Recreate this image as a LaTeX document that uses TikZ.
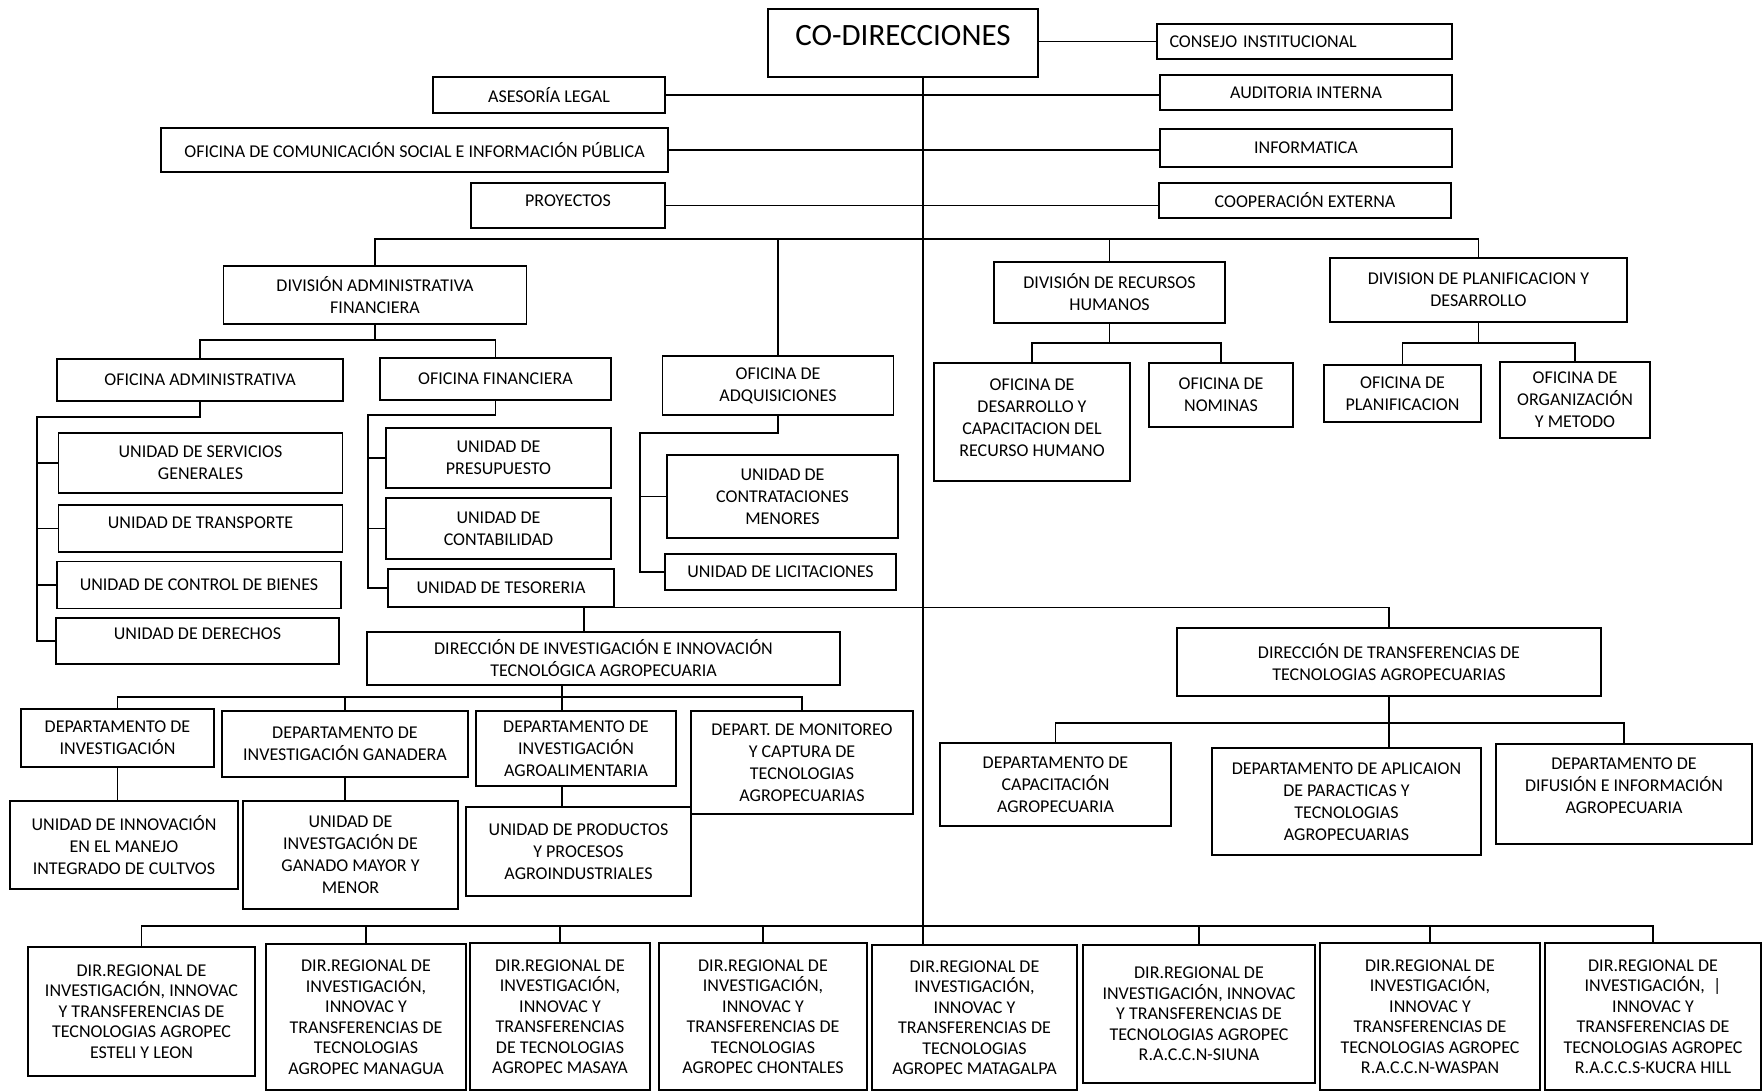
\documentclass[tikz,border=0pt]{standalone}
\usepackage{fontspec}
\setmainfont{Carlito}

\begin{document}
\begin{tikzpicture}[x=1pt,y=-1pt,
    caja/.style={draw=black,line width=1.4pt,inner sep=2pt,align=center,font=\fontsize{18}{22}\selectfont},
    regional/.style={caja,font=\fontsize{18}{20.5}\selectfont},
    linea/.style={black,line width=1.5pt}]
                          \useasboundingbox (0,0) rectangle (1764,1091);

                          \coordinate (tronco) at (923,77);
                          \coordinate (n1) at (0,239);
                          \coordinate (n2) at (0,340);
                          \coordinate (n2b) at (0,343);
                          \coordinate (n3a) at (0,417);
                          \coordinate (n3b) at (0,415);
                          \coordinate (n3c) at (0,433);
                          \coordinate (n5) at (0,697);
                          \coordinate (n5b) at (0,723);
                          \coordinate (n6) at (0,926);
                          \coordinate (ramaadm) at (37,0);
                          \coordinate (ramafin) at (368,0);
                          \coordinate (ramaadq) at (640,0);
                          \coordinate (j1) at (584,607);
                          \coordinate (j2) at (562,0);

                          \node[caja,minimum width=270,minimum height=68,font=\fontsize{31}{36}\selectfont] (codir) at (903,43) {\raisebox{7pt}[\height][\depth]{CO-DIRECCIONES}};
                          \node[caja,minimum width=295,minimum height=35,text width=270,align=left] (consejo) at (1304.5,41.5) {CONSEJO INSTITUCIONAL};
                          \node[caja,minimum width=232,minimum height=36] (asesoria) at (549,95) {ASESORÍA LEGAL};
                          \node[caja,minimum width=292,minimum height=35] (auditoria) at (1306,92.5) {AUDITORIA INTERNA};
                          \node[caja,minimum width=507,minimum height=44] (ofcom) at (414.5,150) {OFICINA DE COMUNICACIÓN SOCIAL E INFORMACIÓN PÚBLICA};
                          \node[caja,minimum width=292,minimum height=38] (informatica) at (1306,148) {INFORMATICA};
                          \node[caja,minimum width=194,minimum height=45] (proyectos) at (568,205.5) {\raisebox{5pt}[\height][\depth]{PROYECTOS}};
                          \node[caja,minimum width=292,minimum height=35] (cooperacion) at (1305,200.5) {COOPERACIÓN EXTERNA};

                          \node[caja,minimum width=303,minimum height=58] (divadm) at (375,295) {DIVISIÓN ADMINISTRATIVA\\FINANCIERA};
                          \node[caja,minimum width=231,minimum height=61] (divrh) at (1109.5,292.5) {DIVISIÓN DE RECURSOS\\HUMANOS};
                          \node[caja,minimum width=297,minimum height=64] (divpl) at (1478.5,290) {DIVISION DE PLANIFICACION Y\\DESARROLLO};

                          \node[caja,minimum width=286,minimum height=42] (ofadmin) at (200,380) {OFICINA ADMINISTRATIVA};
                          \node[caja,minimum width=231,minimum height=42] (offin) at (495.5,379) {OFICINA FINANCIERA};
                          \node[caja,minimum width=231,minimum height=59] (ofadq) at (778,385.5) {OFICINA DE\\ADQUISICIONES};

                          \node[caja,minimum width=284,minimum height=60] (usg) at (200.5,463) {UNIDAD DE SERVICIOS\\GENERALES};
                          \node[caja,minimum width=284,minimum height=47] (utr) at (200.5,528.5) {\raisebox{6pt}[\height][\depth]{UNIDAD DE TRANSPORTE}};
                          \node[caja,minimum width=284,minimum height=47] (ucb) at (199,585) {UNIDAD DE CONTROL DE BIENES};
                          \node[caja,minimum width=283,minimum height=46] (uder) at (197.5,641) {\raisebox{7pt}[\height][\depth]{UNIDAD DE DERECHOS}};

                          \node[caja,minimum width=225,minimum height=60] (upre) at (498.5,458) {UNIDAD DE\\PRESUPUESTO};
                          \node[caja,minimum width=225,minimum height=61] (ucon) at (498.5,528.5) {UNIDAD DE\\CONTABILIDAD};
                          \node[caja,minimum width=226,minimum height=38] (utes) at (501,588) {UNIDAD DE TESORERIA};

                          \node[caja,minimum width=231,minimum height=83] (ucm) at (782.5,496.5) {UNIDAD DE\\CONTRATACIONES\\MENORES};
                          \node[caja,minimum width=231,minimum height=36] (ulic) at (780.5,572) {UNIDAD DE LICITACIONES};

                          \node[caja,minimum width=196,minimum height=118] (ofdes) at (1032,422) {OFICINA DE\\DESARROLLO Y\\CAPACITACION DEL\\RECURSO HUMANO\\[-14pt]\mbox{}};
                          \node[caja,minimum width=144,minimum height=64] (ofnom) at (1221,395) {OFICINA DE\\NOMINAS};
                          \node[caja,minimum width=157,minimum height=57] (ofplan) at (1402.5,393.5) {OFICINA DE\\PLANIFICACION};
                          \node[caja,minimum width=150,minimum height=76] (oforg) at (1575,400) {OFICINA DE\\ORGANIZACIÓN\\Y METODO};

                          \node[caja,minimum width=473,minimum height=53] (dirinv) at (603.5,658.5) {DIRECCIÓN DE INVESTIGACIÓN E INNOVACIÓN\\TECNOLÓGICA AGROPECUARIA};
                          \node[caja,minimum width=424,minimum height=68] (dirtr) at (1389,662) {DIRECCIÓN DE TRANSFERENCIAS DE\\TECNOLOGIAS AGROPECUARIAS};

                          \node[caja,minimum width=193,minimum height=58] (dinv) at (117.5,738) {DEPARTAMENTO DE\\INVESTIGACIÓN};
                          \node[caja,minimum width=246,minimum height=66] (dgan) at (345,744) {DEPARTAMENTO DE\\INVESTIGACIÓN GANADERA};
                          \node[caja,minimum width=200,minimum height=75] (dagro) at (576,748.5) {DEPARTAMENTO DE\\INVESTIGACIÓN\\AGROALIMENTARIA};
                          \node[caja,minimum width=222,minimum height=103] (dmon) at (802,762.5) {DEPART. DE MONITOREO\\Y CAPTURA DE\\TECNOLOGIAS\\AGROPECUARIAS};
                          \node[caja,minimum width=228,minimum height=88] (uinn) at (124,845) {UNIDAD DE INNOVACIÓN\\EN EL MANEJO\\INTEGRADO DE CULTVOS};
                          \node[caja,minimum width=215,minimum height=108] (ugan) at (350.5,855) {UNIDAD DE\\INVESTGACIÓN DE\\GANADO MAYOR Y\\MENOR};
                          \node[caja,minimum width=225,minimum height=89] (uprod) at (578.5,851.5) {UNIDAD DE PRODUCTOS\\Y PROCESOS\\AGROINDUSTRIALES};

                          \node[caja,minimum width=231,minimum height=83] (dcap) at (1055.5,784.5) {DEPARTAMENTO DE\\CAPACITACIÓN\\AGROPECUARIA};
                          \node[caja,minimum width=269,minimum height=107] (dapl) at (1346.5,801.5) {DEPARTAMENTO DE APLICAION\\DE PARACTICAS Y\\TECNOLOGIAS\\AGROPECUARIAS};
                          \node[caja,minimum width=256,minimum height=100] (ddif) at (1624,794) {DEPARTAMENTO DE\\DIFUSIÓN E INFORMACIÓN\\AGROPECUARIA\\[-6pt]\mbox{}};

                          \node[regional,minimum width=227,minimum height=129] (r1) at (141.5,1011.5) {DIR.REGIONAL DE\\INVESTIGACIÓN, INNOVAC\\Y TRANSFERENCIAS DE\\TECNOLOGIAS AGROPEC\\ESTELI Y LEON};
                          \node[regional,minimum width=200,minimum height=146] (r2) at (366,1017) {DIR.REGIONAL DE\\INVESTIGACIÓN,\\INNOVAC Y\\TRANSFERENCIAS DE\\TECNOLOGIAS\\AGROPEC MANAGUA};
                          \node[regional,minimum width=180,minimum height=147] (r3) at (560,1016.5) {DIR.REGIONAL DE\\INVESTIGACIÓN,\\INNOVAC Y\\TRANSFERENCIAS\\DE TECNOLOGIAS\\AGROPEC MASAYA};
                          \node[regional,minimum width=208,minimum height=147] (r4) at (763,1016.5) {DIR.REGIONAL DE\\INVESTIGACIÓN,\\INNOVAC Y\\TRANSFERENCIAS DE\\TECNOLOGIAS\\AGROPEC CHONTALES};
                          \node[regional,minimum width=205,minimum height=145] (r5) at (974.5,1017.5) {DIR.REGIONAL DE\\INVESTIGACIÓN,\\INNOVAC Y\\TRANSFERENCIAS DE\\TECNOLOGIAS\\AGROPEC MATAGALPA};
                          \node[regional,minimum width=232,minimum height=138] (r6) at (1199,1014) {DIR.REGIONAL DE\\INVESTIGACIÓN, INNOVAC\\Y TRANSFERENCIAS DE\\TECNOLOGIAS AGROPEC\\R.A.C.C.N-SIUNA};
                          \node[regional,minimum width=220,minimum height=147] (r7) at (1430,1016.5) {DIR.REGIONAL DE\\INVESTIGACIÓN,\\INNOVAC Y\\TRANSFERENCIAS DE\\TECNOLOGIAS AGROPEC\\R.A.C.C.N-WASPAN};
                          \node[regional,minimum width=216,minimum height=147] (r8) at (1653,1016.5) {DIR.REGIONAL DE\\INVESTIGACIÓN,~~|\\INNOVAC Y\\TRANSFERENCIAS DE\\TECNOLOGIAS AGROPEC\\R.A.C.C.S-KUCRA HILL};

                          \draw[linea] (codir.east |- consejo.west) -- (consejo.west);
                          \draw[linea] (asesoria.east) -- (asesoria.east -| auditoria.west);
                          \draw[linea] (ofcom.east) -- (ofcom.east -| informatica.west);
                          \draw[linea] (proyectos.east) -- (proyectos.east -| cooperacion.west);
                          \draw[linea] (tronco) -- (tronco |- r5.north);

                          \draw[linea] (divadm.north) -- (divadm.north |- n1) -- (divpl.north |- n1) -- (divpl.north);
                          \draw[linea] (ofadq.north |- n1) -- (ofadq.north);
                          \draw[linea] (divrh.north |- n1) -- (divrh.north);

                          \draw[linea] (divadm.south) -- (divadm.south |- n2);
                          \draw[linea] (ofadmin.north) -- (ofadmin.north |- n2) -- (offin.north |- n2) -- (offin.north);
                          \draw[linea] (ofadmin.south) -- (ofadmin.south |- n3a) -- (ramaadm |- n3a) -- (ramaadm |- uder.west) -- (uder.west);
                          \draw[linea] (ramaadm |- usg.west) -- (usg.west);
                          \draw[linea] (ramaadm |- utr.west) -- (utr.west);
                          \draw[linea] (ramaadm |- ucb.west) -- (ucb.west);
                          \draw[linea] (offin.south) -- (offin.south |- n3b) -- (ramafin |- n3b) -- (ramafin |- utes.west) -- (utes.west);
                          \draw[linea] (ramafin |- upre.west) -- (upre.west);
                          \draw[linea] (ramafin |- ucon.west) -- (ucon.west);
                          \draw[linea] (ofadq.south) -- (ofadq.south |- n3c) -- (ramaadq |- n3c) -- (ramaadq |- ulic.west) -- (ulic.west);
                          \draw[linea] (ramaadq |- ucm.west) -- (ucm.west);

                          \draw[linea] (divrh.south) -- (divrh.south |- n2b);
                          \draw[linea] (ofdes.north) -- (ofdes.north |- n2b) -- (ofnom.north |- n2b) -- (ofnom.north);
                          \draw[linea] (divpl.south) -- (divpl.south |- n2b);
                          \draw[linea] (ofplan.north) -- (ofplan.north |- n2b) -- (oforg.north |- n2b) -- (oforg.north);

                          \draw[linea] (utes.south east) -- (dirtr.north |- utes.south east) -- (dirtr.north);
                          \draw[linea] (j1) -- (j1 |- dirinv.north);
                          \draw[linea] (j2 |- dirinv.south) -- (j2 |- dagro.north);
                          \draw[linea] (dinv.north) -- (dinv.north |- n5) -- (dmon.north |- n5) -- (dmon.north);
                          \draw[linea] (dgan.north |- n5) -- (dgan.north);
                          \draw[linea] (dinv.south) -- (dinv.south |- uinn.north);
                          \draw[linea] (dgan.south) -- (dgan.south |- ugan.north);
                          \draw[linea] (j2 |- dagro.south) -- (j2 |- uprod.north);

                          \draw[linea] (dirtr.south) -- (dirtr.south |- dapl.north);
                          \draw[linea] (dcap.north) -- (dcap.north |- n5b) -- (ddif.north |- n5b) -- (ddif.north);

                          \draw[linea] (r1.north) -- (r1.north |- n6) -- (r8.north |- n6) -- (r8.north);
                          \draw[linea] (r2.north |- n6) -- (r2.north);
                          \draw[linea] (r3.north |- n6) -- (r3.north);
                          \draw[linea] (r4.north |- n6) -- (r4.north);
                          \draw[linea] (r6.north |- n6) -- (r6.north);
                          \draw[linea] (r7.north |- n6) -- (r7.north);
                          \end{tikzpicture}
\end{document}
